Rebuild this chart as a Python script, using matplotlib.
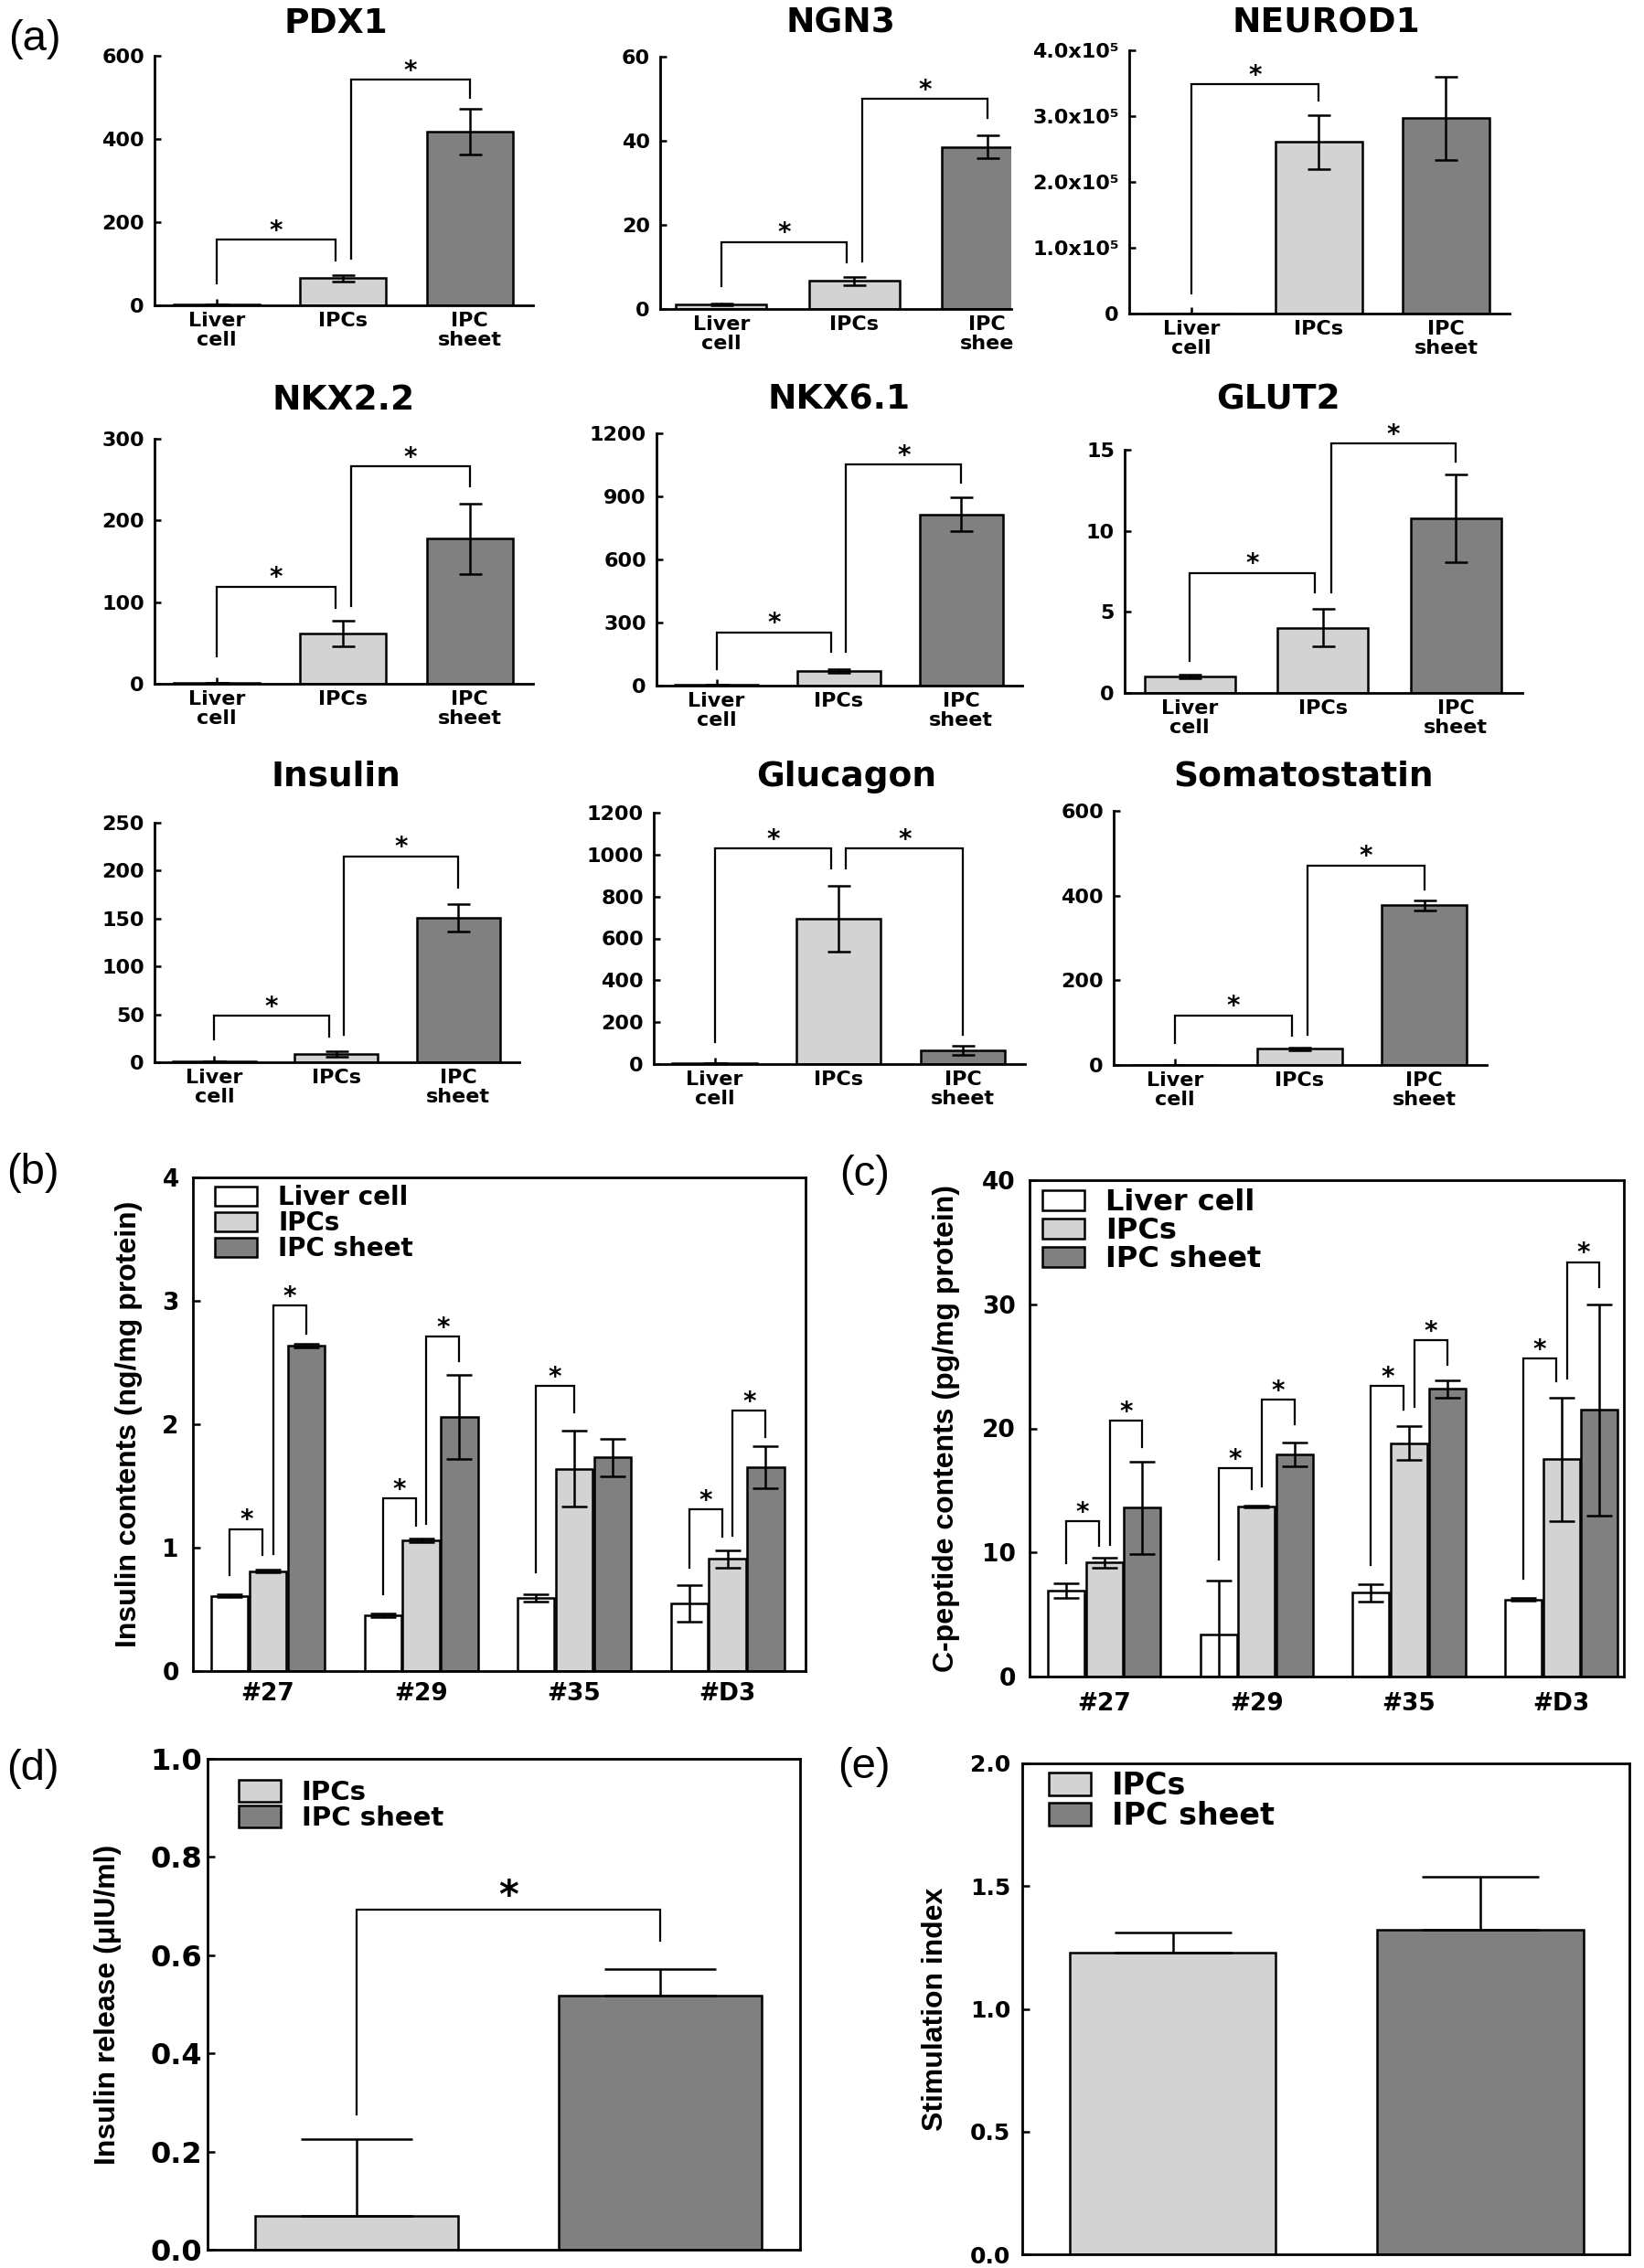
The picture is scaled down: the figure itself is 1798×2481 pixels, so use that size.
import matplotlib
matplotlib.use('Agg')
import matplotlib.pyplot as plt
import numpy as np

plt.rcParams['font.family'] = ['DejaVu Sans']
plt.rcParams['font.weight'] = 'bold'

# ---------------- data ----------------
cells = ['Liver cell', 'IPCs', 'IPC sheet']
a_xlabels = ['Liver\ncell', 'IPCs', 'IPC\nsheet']
genes = ['PDX1', 'NGN3', 'NEUROD1', 'NKX2.2', 'NKX6.1', 'GLUT2',
         'Insulin', 'Glucagon', 'Somatostatin']

pdx1_mean = [2, 65, 418]
pdx1_err = [0, 8, 55]
ngn3_mean = [1.1, 6.7, 38.5]
ngn3_err = [0.2, 1.0, 2.7]
neurod1_mean = [500, 2.61e5, 2.97e5]
neurod1_err = [0, 0.41e5, 0.63e5]
nkx22_mean = [1, 61.5, 177.8]
nkx22_err = [0, 16, 43]
nkx61_mean = [3, 70, 815]
nkx61_err = [0, 10, 79]
glut2_mean = [1.03, 4.03, 10.78]
glut2_err = [0.1, 1.15, 2.7]
insulin_mean = [1, 8.6, 150.6]
insulin_err = [0, 3, 14.5]
glucagon_mean = [3, 694, 64]
glucagon_err = [0, 157, 22]
somato_mean = [1, 38, 377]
somato_err = [0, 4, 12]

# significance brackets: (bar i, bar j, top, left leg start, right leg start)
pdx1_br = [(0, 1, 158, 53, 108), (1, 2, 543, 112, 500)]
ngn3_br = [(0, 1, 15.9, 5.4, 11.0), (1, 2, 49.9, 11.4, 45.5)]
neurod1_br = [(0, 1, 3.48e5, 0.3e5, 3.24e5)]
nkx22_br = [(0, 1, 119, 33.5, 93), (1, 2, 266, 95, 242)]
nkx61_br = [(0, 1, 254, 80, 160), (1, 2, 1052, 160, 965)]
glut2_br = [(0, 1, 7.4, 1.97, 6.2), (1, 2, 15.4, 6.2, 14.25)]
insulin_br = [(0, 1, 48.7, 24, 27), (1, 2, 215, 28.7, 182.5)]
glucagon_br = [(0, 1, 1030, 105, 934), (1, 2, 1030, 934, 141)]
somato_br = [(0, 1, 117, 52, 68), (1, 2, 471, 72, 415)]

pdx1_ticks = [0, 200, 400, 600]
ngn3_ticks = [0, 20, 40, 60]
neurod1_ticks = [0, 1e5, 2e5, 3e5, 4e5]
neurod1_ticklabels = ['0', '1.0x10\u2075', '2.0x10\u2075', '3.0x10\u2075', '4.0x10\u2075']
nkx22_ticks = [0, 100, 200, 300]
nkx61_ticks = [0, 300, 600, 900, 1200]
glut2_ticks = [0, 5, 10, 15]
insulin_ticks = [0, 50, 100, 150, 200, 250]
glucagon_ticks = [0, 200, 400, 600, 800, 1000, 1200]
somato_ticks = [0, 200, 400, 600]

lines = ['#27', '#29', '#35', '#D3']
b_liver = [0.61, 0.45, 0.59, 0.55]
b_liver_err = [0.01, 0.015, 0.03, 0.15]
b_ipcs = [0.81, 1.06, 1.64, 0.91]
b_ipcs_err = [0.01, 0.015, 0.31, 0.07]
b_sheet = [2.64, 2.06, 1.73, 1.65]
b_sheet_err = [0.015, 0.34, 0.15, 0.17]
# (group, bar i, bar j, top, left start, right start)
b_br = [(0, 0, 1, 1.15, 0.78, 0.94), (0, 1, 2, 2.96, 0.95, 2.73),
        (1, 0, 1, 1.40, 0.62, 1.18), (1, 1, 2, 2.71, 1.19, 2.51),
        (2, 0, 1, 2.31, 0.80, 2.10),
        (3, 0, 1, 1.31, 0.84, 1.09), (3, 1, 2, 2.11, 1.10, 1.90)]

c_liver = [6.9, 3.4, 6.75, 6.2]
c_liver_err = [0.6, 4.3, 0.7, 0.1]
c_ipcs = [9.2, 13.7, 18.8, 17.5]
c_ipcs_err = [0.4, 0.1, 1.35, 5.0]
c_sheet = [13.6, 17.9, 23.2, 21.5]
c_sheet_err = [3.7, 0.95, 0.7, 8.5]
c_br = [(0, 0, 1, 12.5, 9.1, 10.5), (0, 1, 2, 20.6, 10.6, 18.5),
        (1, 0, 1, 16.8, 9.4, 15.1), (1, 1, 2, 22.3, 15.3, 20.3),
        (2, 0, 1, 23.4, 9.0, 21.5), (2, 1, 2, 27.1, 21.7, 25.1),
        (3, 0, 1, 25.6, 7.9, 23.8), (3, 1, 2, 33.4, 24.0, 31.4)]

d_release = [0.068, 0.518]
d_release_err = [0.157, 0.054]
d_br = [(0, 1, 0.693, 0.276, 0.629)]

e_index = [1.23, 1.324]
e_index_err = [0.08, 0.214]

# ---------------- layout ----------------
W, H = 1798, 2481
fig = plt.figure(figsize=(W / 100, H / 100), dpi=100)
WHITE, LIGHT, DARK = 'white', '#d3d3d3', '#808080'
LW = 1.8


def px_axes(l, t, r, b):
    return fig.add_axes([l / W, 1 - b / H, (r - l) / W, (b - t) / H])


def star(ax, x, y, fs=20):
    ax.annotate('*', (x, y), xytext=(0, 1), textcoords='offset points',
                ha='center', va='baseline', fontsize=fs, annotation_clip=False)


def brackets(ax, br, pos, d, fs=20):
    same = [b if len(b) == 6 else (0,) + tuple(b) for b in br]
    for g, i, j, top, y1, y2 in same:
        sl = any(b[0] == g and b[2] == i for b in same)
        sr = any(b[0] == g and b[1] == j for b in same)
        x1 = pos(g, i) + (d if sl else 0)
        x2 = pos(g, j) - (d if sr else 0)
        ax.plot([x1, x1, x2, x2], [y1, top, top, y2], color='k', lw=1.6,
                clip_on=False, solid_joinstyle='miter')
        star(ax, (x1 + x2) / 2, top, fs)


# ---------------- panel (a) ----------------
a_panels = [
    (pdx1_mean, pdx1_err, pdx1_br, pdx1_ticks, None),
    (ngn3_mean, ngn3_err, ngn3_br, ngn3_ticks, None),
    (neurod1_mean, neurod1_err, neurod1_br, neurod1_ticks, neurod1_ticklabels),
    (nkx22_mean, nkx22_err, nkx22_br, nkx22_ticks, None),
    (nkx61_mean, nkx61_err, nkx61_br, nkx61_ticks, None),
    (glut2_mean, glut2_err, glut2_br, glut2_ticks, None),
    (insulin_mean, insulin_err, insulin_br, insulin_ticks, None),
    (glucagon_mean, glucagon_err, glucagon_br, glucagon_ticks, None),
    (somato_mean, somato_err, somato_br, somato_ticks, None),
]
a_boxes = [(169, 61, 583, 334), (722, 62, 1106, 338), (1235, 55, 1651, 343),
           (169, 480, 583, 748), (718, 474, 1118, 750), (1230, 492, 1665, 758),
           (169, 900, 568, 1162), (715, 889, 1121, 1164), (1218, 887, 1626, 1165)]
title_x = [367, 919, 1450, 376, 918, 1398, 367, 926, 1426]
title_base = [36, 36, 36, 448, 448, 448, 860, 860, 860]

for k, (mean, err, br, ticks, tlabels) in enumerate(a_panels):
    ax = px_axes(*a_boxes[k])
    x = np.arange(3)
    ax.bar(x, mean, 0.68, color=[LIGHT, LIGHT, DARK], edgecolor='k', linewidth=LW,
           yerr=err, capsize=9, error_kw=dict(elinewidth=LW, capthick=LW, ecolor='k'),
           zorder=2)
    ax.set_xlim(-0.46 if k == 1 else -0.49, 2.18 if k == 1 else 2.5)
    ax.set_ylim(0, ticks[-1])
    for s in ['top', 'right']:
        ax.spines[s].set_visible(False)
    for s in ['left', 'bottom']:
        ax.spines[s].set_linewidth(2)
    ax.set_yticks(ticks)
    if tlabels is not None:
        ax.set_yticklabels(tlabels)
    ax.set_xticks(x)
    labels = list(a_xlabels)
    if k == 1:
        labels[2] = 'IPC\nshee'
    ax.set_xticklabels(labels, linespacing=1.05)
    ax.tick_params(direction='in', length=5, width=1.8, labelsize=16)
    ax.tick_params(axis='y', pad=8)
    ax.tick_params(axis='x', pad=5)
    brackets(ax, br, lambda g, i: i, 0.06)
    fig.text(title_x[k] / W, 1 - title_base[k] / H, genes[k], ha='center',
             va='baseline', fontsize=27, fontweight='bold')


def style_box(ax):
    for s in ax.spines.values():
        s.set_linewidth(2)
    ax.tick_params(direction='in', length=6, width=1.8, top=False, right=False)


def ylab(ax, xax, text):
    ax.text(xax, 0.5, text, transform=ax.transAxes, rotation=90, ha='center',
            va='center', fontsize=23, fontweight='bold',
            family=['Liberation Sans', 'DejaVu Sans'])


def legend(ax, fs, x, y, hh=22):
    em = fs * 100 / 72
    ax.legend(loc='upper left', bbox_to_anchor=(x, y), frameon=False, fontsize=fs,
              borderpad=0, borderaxespad=0, labelspacing=0.0,
              handlelength=46 / em, handleheight=hh / em, handletextpad=23 / em)


# ---------------- panels (b) and (c) ----------------
offs = [-0.25, 0, 0.25]
for (box, ser, errs, br, ymax, yt, ytxt, xr, lx, leg, lfs, ypad, xpad) in [
        ((211, 1288, 881, 1828), [b_liver, b_ipcs, b_sheet],
         [b_liver_err, b_ipcs_err, b_sheet_err], b_br, 4, [0, 1, 2, 3, 4],
         'Insulin contents (ng/mg protein)', 3.51, -0.1045, (0.036, 0.985), 20, 11, 9),
        ((1126, 1291, 1776, 1834), [c_liver, c_ipcs, c_sheet],
         [c_liver_err, c_ipcs_err, c_sheet_err], c_br, 40, [0, 10, 20, 30, 40],
         'C-peptide contents (pg/mg protein)', 3.41, -0.14, (0.0215, 0.983), 23, 11, 12)]:
    ax = px_axes(*box)
    x = np.arange(4)
    for s, (vals, e, col) in enumerate(zip(ser, errs, [WHITE, LIGHT, DARK])):
        ax.bar(x + offs[s], vals, 0.24, color=col, edgecolor='k', linewidth=LW,
               yerr=e, capsize=10, label=cells[s],
               error_kw=dict(elinewidth=LW, capthick=LW, ecolor='k'), zorder=2)
    ax.set_xlim(-0.49, xr)
    ax.set_ylim(0, ymax)
    ax.set_yticks(yt)
    ax.set_xticks(x)
    ax.set_xticklabels(lines)
    style_box(ax)
    ax.tick_params(labelsize=19)
    ax.tick_params(axis='y', pad=ypad)
    ax.tick_params(axis='x', pad=xpad)
    brackets(ax, br, lambda g, i: g + offs[i], 0.035)
    ylab(ax, lx, ytxt)
    legend(ax, lfs, *leg)

# ---------------- panels (d) and (e) ----------------
for (box, vals, up, br, ymax, yt, ytl, ytxt, xr, lx, leg, lfs, tfs, ypad, cap) in [
        ((227, 1924, 875, 2461), d_release, d_release_err, d_br, 1.0,
         [0, 0.2, 0.4, 0.6, 0.8, 1.0], ['0.0', '0.2', '0.4', '0.6', '0.8', '1.0'],
         'Insulin release (\u03bcIU/ml)', 1.46, -0.168, (0.052, 0.957), 21, 23, 4, 44),
        ((1118, 1929, 1782, 2466), e_index, e_index_err, [], 2.0,
         [0, 0.5, 1.0, 1.5, 2.0], ['0.0', '0.5', '1.0', '1.5', '2.0'],
         'Stimulation index', 1.485, -0.143, (0.044, 0.985), 24, 18, 9, 46)]:
    ax = px_axes(*box)
    x = np.arange(2)
    for s, col in enumerate([LIGHT, DARK]):
        ax.bar(x[s], vals[s], 0.67, color=col, edgecolor='k', linewidth=LW,
               yerr=[[0], [up[s]]], capsize=cap, label=cells[s + 1],
               error_kw=dict(elinewidth=LW, capthick=LW, ecolor='k'), zorder=2)
    ax.set_xlim(-0.49, xr)
    ax.set_ylim(0, ymax)
    ax.set_yticks(yt)
    ax.set_yticklabels(ytl)
    ax.set_xticks(x)
    ax.set_xticklabels([])
    style_box(ax)
    ax.tick_params(labelsize=tfs)
    ax.tick_params(axis='y', pad=ypad)
    brackets(ax, br, lambda g, i: i, 0.0, fs=30)
    ylab(ax, lx, ytxt)
    legend(ax, lfs, *leg, hh=25)

# panel letters
for lab, (px, py) in zip(['(a)', '(b)', '(c)', '(d)', '(e)'],
                         [(38, 43), (36, 1283), (946, 1285), (36, 1935), (945, 1933)]):
    fig.text(px / W, 1 - py / H, lab, ha='center', va='center', fontsize=34,
             fontweight='normal', family=['Liberation Sans', 'DejaVu Sans'])

fig.savefig('out.png', dpi=100)
